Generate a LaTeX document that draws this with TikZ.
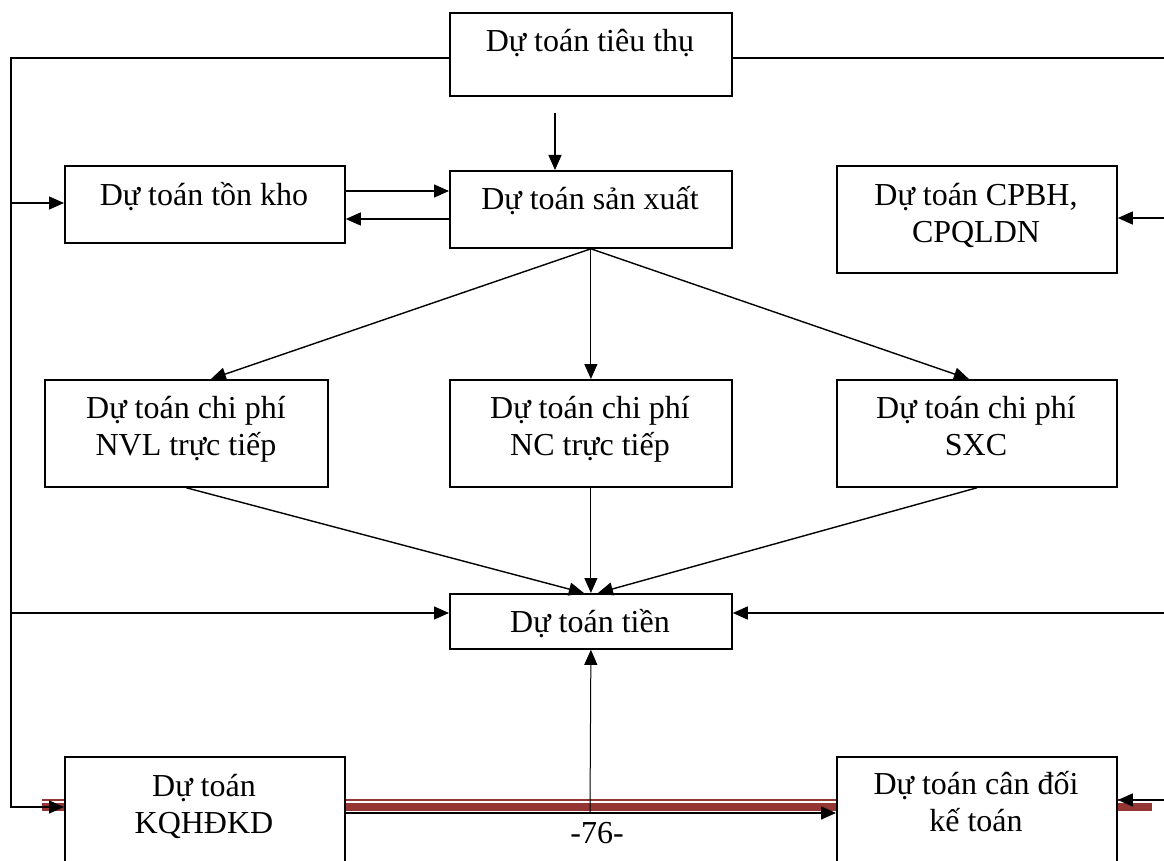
\documentclass[tikz,border=0pt]{standalone}
\usepackage{fontspec}
\setmainfont{Liberation Serif}
\usetikzlibrary{arrows.meta,calc}
\definecolor{footred}{RGB}{148,54,52}
\begin{document}
\begin{tikzpicture}[x=1pt,y=-1pt,
  box/.style={draw=black, line width=1.8pt, fill=white, inner sep=0pt, anchor=north west},
  % base anchor of a multi-line label sits on its last line
  lbl/.style={inner sep=0pt, anchor=base, align=center, font=\fontsize{32}{37}\selectfont},
  link/.style={draw=black, line width=1.4pt},
  wire/.style={link, -{Triangle[length=15pt,width=13pt]}},
  thinwire/.style={wire, line width=1pt}]
\useasboundingbox (0,0) rectangle (1164,861);
\clip (0,0) rectangle (1164,861);

% footer rule (thin + thick) behind the boxes
\fill[footred] (42,799.3) rectangle (1152,801);
\fill[footred] (42,803) rectangle (1152,811);

% boxes
\node[box, minimum width=282pt, minimum height=83pt]  (tt)   at (449,12)  {};
\node[box, minimum width=282pt, minimum height=77pt]  (sx)   at (449,170) {};
\node[box, minimum width=280pt, minimum height=77pt]  (tk)   at (64,165)  {};
\node[box, minimum width=280pt, minimum height=107pt] (bh)   at (836,165) {};
\node[box, minimum width=283pt, minimum height=107pt] (nvl)  at (44,379)  {};
\node[box, minimum width=282pt, minimum height=107pt] (nc)   at (449,379) {};
\node[box, minimum width=280pt, minimum height=107pt] (sxc)  at (836,379) {};
\node[box, minimum width=282pt, minimum height=55pt]  (tien) at (449,593) {};
\node[box, minimum width=280pt, minimum height=124pt] (kq)   at (64,756)  {};
\node[box, minimum width=280pt, minimum height=124pt] (cd)   at (836,756) {};

% labels
\node[lbl] (tt-t)   at (590,52)  {Dự toán tiêu thụ};
\node[lbl] (sx-t)   at (590,209) {Dự toán sản xuất};
\node[lbl] (tk-t)   at (204,205) {Dự toán tồn kho};
\node[lbl] (bh-t)   at (976,242) {Dự toán CPBH,\\CPQLDN};
\node[lbl] (nvl-t)  at (186,455) {Dự toán chi phí\\NVL trực tiếp};
\node[lbl] (nc-t)   at (590,455) {Dự toán chi phí\\NC trực tiếp};
\node[lbl] (sxc-t)  at (976,455) {Dự toán chi phí\\SXC};
\node[lbl] (tien-t) at (590,632) {Dự toán tiền};
\node[lbl] (kq-t)   at (204,833) {Dự toán\\KQHĐKD};
\node[lbl] (cd-t)   at (976,831) {Dự toán cân đối\\kế toán};
\node[lbl] (page)   at (597,843) {-76-};

% routing points
\coordinate (lt) at (11,58);
\coordinate (lb) at (11,807);
\coordinate (l1) at (11,203);
\coordinate (l2) at (11,613);
\coordinate (rt) at (1164,58);
\coordinate (r1) at (1164,218);
\coordinate (r2) at (1164,613);
\coordinate (r3) at (1164,800);
\coordinate (ts) at (555,113);
\coordinate (pb) at (590,812);
\coordinate (kb) at (344,813);

% left feedback line
\draw[wire] (tt.west |- lt) -- (lt) -- (lb) -- (lb -| kq.west);
\draw[wire] (l1) -- (l1 -| tk.west);
\draw[wire] (l2) -- (l2 -| tien.west);

% right feed lines
\draw[link] (tt.east |- rt) -- (rt);
\draw[wire] (r1) -- (r1 -| bh.east);
\draw[wire] (r2) -- (r2 -| tien.east);
\draw[wire] (r3) -- (r3 -| cd.east);

% upper part
\draw[wire] (ts) -- (ts |- sx.north);
\draw[wire] (tk.east |- 0,191) -- (sx.west |- 0,191);
\draw[wire] (sx.west |- 0,219) -- (tk.east |- 0,219);

% production to cost budgets
\draw[wire] (sx.south) -- ([xshift=24.5pt]nvl.north);
\draw[thinwire] (sx.south) -- (nc.north);
\draw[wire] (sx.south) -- ([xshift=-8pt]sxc.north);

% cost budgets to cash
\draw[wire] (nvl.south) -- ([xshift=-7pt]tien.north);
\draw[thinwire] (nc.south) -- (tien.north);
\draw[wire] (sxc.south) -- ([xshift=7pt]tien.north);

% bottom
\draw[thinwire] (pb) -- (tien.south);
\draw[wire] (kb) -- (kb -| cd.west);
\end{tikzpicture}
\end{document}
